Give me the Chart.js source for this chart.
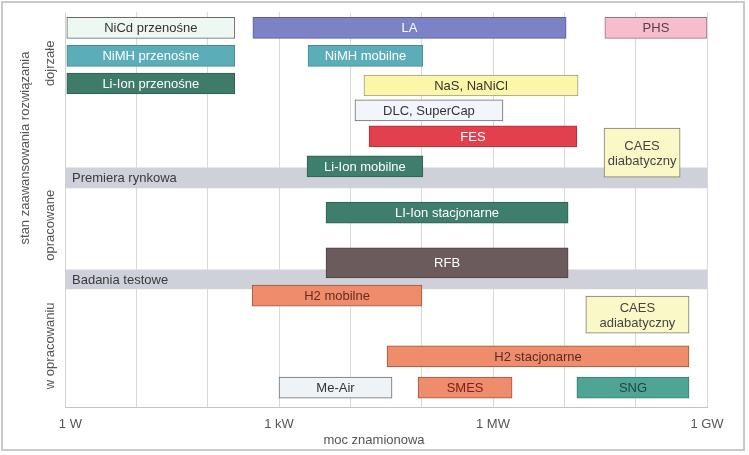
<!DOCTYPE html>
<html>
<head>
<meta charset="utf-8">
<script src="https://cdn.jsdelivr.net/npm/chart.js@4/dist/chart.umd.min.js"></script>
<style>
  html, body { margin: 0; padding: 0; background: #fff; }
  #wrap { position: relative; width: 749px; height: 455px; }
  #frame { position: absolute; left: 1px; top: 1px; width: 744px; height: 450px; border: 2px solid #c9c9c9; pointer-events: none; box-sizing: border-box; }
  canvas { display: block; }
</style>
</head>
<body>
<div id="wrap">
  <canvas id="c" width="749" height="455"></canvas>
  <div id="frame"></div>
</div>
<script>
// ---- DATA ----
const names = [
  'NiCd przenośne', 'LA', 'PHS',
  'NiMH przenośne', 'NiMH mobilne',
  'Li-Ion przenośne', 'NaS, NaNiCl',
  'DLC, SuperCap', 'FES', 'CAES\ndiabatyczny',
  'Li-Ion mobilne', 'LI-Ion stacjonarne', 'RFB',
  'H2 mobilne', 'CAES\nadiabatyczny', 'H2 stacjonarne',
  'Me-Air', 'SMES', 'SNG',
  'Premiera rynkowa', 'Badania testowe'
];
// rated power range [W]
const powerMin = [
  1.06, 430, 3.7e7,
  1.06, 2.55e3,
  1.06, 1.55e4,
  1.16e4, 1.83e4, 3.6e7,
  2.47e3, 4.56e3, 4.56e3,
  420, 2.0e7, 3.27e4,
  1.0e3, 8.9e4, 1.5e7,
  1, 1
];
const powerMax = [
  240, 1.06e7, 1e9,
  240, 1.04e5,
  240, 1.56e7,
  1.38e6, 1.5e7, 4.2e8,
  1.04e5, 1.13e7, 1.13e7,
  1.01e5, 5.6e8, 5.6e8,
  3.84e4, 1.85e6, 5.6e8,
  1e9, 1e9
];
// maturity level (0 = under development, 100 = mature)
const maturity = [
  96, 96, 96,
  88.9, 88.9,
  81.9, 81.4,
  75.1, 68.5, 64.4,
  60.9, 49.2, 36.5,
  28.2, 23.4, 12.8,
  4.9, 4.9, 4.9,
  58.0, 32.3
];
const powerTicks = [1, 10, 100, 1e3, 1e4, 1e5, 1e6, 1e7, 1e8, 1e9];
const powerTickLabels = { 1: '   1 W', 1000: '1 kW', 1000000: '1 MW', 1000000000: '1 GW' };
const stageLabels = ['dojrzałe', 'opracowane', 'w opracowaniu'];
const stageLevels = [87, 46, 15.5];

// ---- STYLES ----
const styles = {
  'NiCd przenośne':   { fill: '#edf8f2', border: '#6a6a6a', text: '#333333' },
  'LA':               { fill: '#7b82c6', border: '#5a5e96', text: '#ffffff' },
  'PHS':              { fill: '#f6bdcc', border: '#9a7080', text: '#5a3e4c' },
  'NiMH przenośne':   { fill: '#5badb8', border: '#4a8a92', text: '#ffffff' },
  'NiMH mobilne':     { fill: '#5badb8', border: '#4a8a92', text: '#ffffff' },
  'Li-Ion przenośne': { fill: '#3e7b69', border: '#2f5f52', text: '#ffffff' },
  'NaS, NaNiCl':      { fill: '#fbf6a8', border: '#9a9a80', text: '#333333' },
  'DLC, SuperCap':    { fill: '#f2f5fa', border: '#6a6a6a', text: '#333333' },
  'FES':              { fill: '#e1404c', border: '#a8303a', text: '#ffffff' },
  'CAES\ndiabatyczny':{ fill: '#fbf8c8', border: '#7a7a6a', text: '#444444', thick: 49 },
  'Li-Ion mobilne':   { fill: '#3f7d6c', border: '#2f5f52', text: '#ffffff' },
  'LI-Ion stacjonarne':{ fill: '#3f7d6c', border: '#2f5f52', text: '#ffffff' },
  'RFB':              { fill: '#6b5b5d', border: '#4e4244', text: '#ffffff', thick: 30 },
  'H2 mobilne':       { fill: '#ee8c6c', border: '#9a5540', text: '#6a2a20' },
  'CAES\nadiabatyczny':{ fill: '#fbf8c8', border: '#7a7a6a', text: '#444444', thick: 37 },
  'H2 stacjonarne':   { fill: '#ee8c6c', border: '#9a5540', text: '#5a2a20' },
  'Me-Air':           { fill: '#eef3f8', border: '#6a6a6a', text: '#333333' },
  'SMES':             { fill: '#ee8c6c', border: '#9a5540', text: '#7a2020' },
  'SNG':              { fill: '#4fa595', border: '#3a7a6c', text: '#20443e' },
  'Premiera rynkowa': { fill: '#ced1da', border: '#ced1da', text: '#3a3a3a', thick: 20, band: true },
  'Badania testowe':  { fill: '#ced1da', border: '#ced1da', text: '#3a3a3a', thick: 19, band: true }
};
const FONT = '"Liberation Sans", Arial, sans-serif';

const datasets = names.map((n, i) => {
  const s = styles[n];
  return {
    label: n,
    data: [{ x: [powerMin[i], powerMax[i]], y: maturity[i] }],
    backgroundColor: s.fill,
    borderColor: s.border,
    borderWidth: s.band ? 0 : 1,
    borderSkipped: false,
    barThickness: s.thick || 21,
    grouped: false,
    order: s.band ? 2 : 1
  };
});

const labelPlugin = {
  id: 'labels',
  afterDatasetsDraw(chart) {
    const ctx = chart.ctx;
    ctx.save();
    ctx.font = '13px ' + FONT;
    ctx.textBaseline = 'middle';
    chart.data.datasets.forEach((ds, i) => {
      const s = styles[ds.label];
      const el = chart.getDatasetMeta(i).data[0];
      const p = el.getProps(['x', 'base', 'y'], true);
      const lines = ds.label.split('\n');
      const lh = 15;
      ctx.fillStyle = s.text;
      lines.forEach((t, k) => {
        const yy = p.y + (k - (lines.length - 1) / 2) * lh + 1;
        if (s.band) {
          ctx.textAlign = 'left';
          ctx.fillText(t, Math.min(p.x, p.base) + 7, yy);
        } else {
          ctx.textAlign = 'center';
          ctx.fillText(t, (p.x + p.base) / 2, yy);
        }
      });
    });
    ctx.restore();
  },
  afterDraw(chart) {
    const ctx = chart.ctx;
    const ys = chart.scales.y;
    const xs = chart.scales.x;
    ctx.save();
    ctx.font = '13px ' + FONT;
    ctx.fillStyle = '#555555';
    ctx.textAlign = 'center';
    ctx.textBaseline = 'middle';
    ctx.save();
    ctx.translate(25, 148);
    ctx.rotate(-Math.PI / 2);
    ctx.fillText('stan zaawansowania rozwiązania', 0, 0);
    ctx.restore();
    stageLabels.forEach((t, i) => {
      ctx.save();
      ctx.translate(50, ys.getPixelForValue(stageLevels[i]));
      ctx.rotate(-Math.PI / 2);
      ctx.fillText(t, 0, 0);
      ctx.restore();
    });
    ctx.fillText('moc znamionowa', (xs.left + xs.right) / 2 - 12, 440);
    ctx.restore();
  }
};

new Chart(document.getElementById('c'), {
  type: 'bar',
  data: { datasets },
  options: {
    indexAxis: 'y',
    responsive: false,
    animation: false,
    layout: { padding: { left: 0, top: 12, right: 42, bottom: 0 } },
    plugins: { legend: { display: false }, tooltip: { enabled: false } },
    scales: {
      x: {
        type: 'logarithmic',
        min: 1,
        max: 1e9,
        afterBuildTicks(scale) { scale.ticks = powerTicks.map(v => ({ value: v })); },
        afterFit(scale) { scale.height = 48; },
        ticks: {
          autoSkip: false,
          maxRotation: 0,
          padding: 10,
          color: '#555555',
          font: { family: FONT, size: 13 },
          callback: (v) => powerTickLabels[v] || ''
        },
        grid: { color: '#d9d9d9', lineWidth: 1, drawTicks: false },
        border: { display: true, color: '#c4c4c4', width: 1 }
      },
      y: {
        type: 'linear',
        min: 0,
        max: 100,
        offset: false,
        afterFit(scale) { scale.width = 65; },
        ticks: { display: false },
        grid: { display: false, drawTicks: false, offset: false },
        border: { display: true, color: '#d4d4d4', width: 1 }
      }
    }
  },
  plugins: [labelPlugin]
});
</script>
</body>
</html>
